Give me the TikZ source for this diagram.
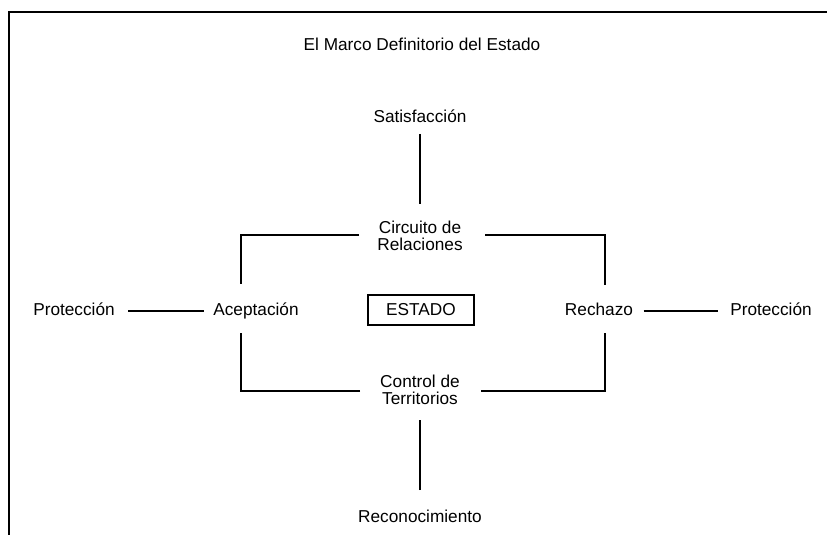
\documentclass[tikz,border=0pt]{standalone}
\usepackage{fontspec}
\setmainfont{Liberation Sans}
\begin{document}
\begin{tikzpicture}[x=1bp,y=-1bp,line width=1.4bp,
  lbl/.style={font=\fontsize{17.3}{16.5}\selectfont,align=center,inner sep=0pt},
  boxed/.style={lbl,draw=black,line width=1.3bp,minimum width=106bp,minimum height=30bp}]
\useasboundingbox (0,0) rectangle (827,535);
\begin{scope}
  \clip (0,0) rectangle (827,535);
  \draw[line width=1.6bp] (9,545) -- (9,12) -- (840,12);
\end{scope}
\node[lbl,anchor=base] (title) at (422,51) {El Marco Definitorio del Estado};
\node[lbl,anchor=base] (sat) at (420,123) {Satisfacción};
\node[lbl] (circ) at (420,236) {Circuito de\\Relaciones};
\node[lbl,anchor=base] (protL) at (74,316) {Protección};
\node[lbl,anchor=base] (acep) at (256,316) {Aceptación};
\node[boxed] (estado) at (421,310) {ESTADO};
\node[lbl,anchor=base] (rech) at (599,316) {Rechazo};
\node[lbl,anchor=base] (protR) at (771,316) {Protección};
\node[lbl] (ctrl) at (420,390) {Control de\\Territorios};
\node[lbl,anchor=base] (recon) at (420,522) {Reconocimiento};
\coordinate (ulc) at (241,235);
\coordinate (urc) at (605,235);
\coordinate (llc) at (241,391);
\coordinate (lrc) at (605,391);
% connectors
\draw ([yshift=-11bp]sat.base) -- ++(0,70);
\draw ([xshift=118bp]ulc) -- (ulc) -- ++(0,49);
\draw ([xshift=-120bp]urc) -- (urc) -- ++(0,50);
\draw ([xshift=119bp]llc) -- (llc) -- ++(0,-58);
\draw ([xshift=-124bp]lrc) -- (lrc) -- ++(0,-58);
\draw ([xshift=13bp,yshift=5bp]protL.base east) -- ([xshift=-9bp,yshift=5bp]acep.base west);
\draw ([xshift=10bp,yshift=5bp]rech.base east) -- ([xshift=-12bp,yshift=5bp]protR.base west);
\draw ([yshift=32bp]recon.base) -- ++(0,-70);
\end{tikzpicture}
\end{document}
